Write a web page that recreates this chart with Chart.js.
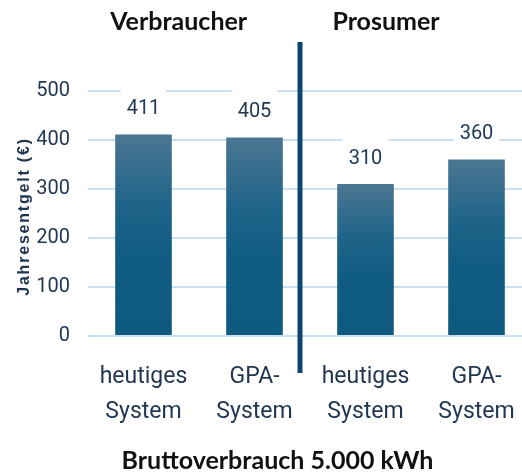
<!DOCTYPE html>
<html>
<head>
<meta charset="utf-8">
<script src="https://cdn.jsdelivr.net/npm/chart.js@4/dist/chart.umd.min.js"></script>
<style>
    html, body { margin: 0; padding: 0; background: #fff; overflow: hidden; }
    #wrap { width: 522px; height: 473px; overflow: hidden; }
</style>
</head>
<body>
<div id="wrap"><canvas id="chart" width="540" height="473"></canvas></div>
<script>
// Daten
const kategorien = [['heutiges', 'System'], ['GPA-', 'System'], ['heutiges', 'System'], ['GPA-', 'System']];
const jahresentgelt = [411, 405, 310, 360];
const gruppen = ['Verbraucher', 'Prosumer'];
const yTitel = 'Jahresentgelt (€)';
const xTitel = 'Bruttoverbrauch 5.000 kWh';

const DUNKEL = '#1f3550';
const SCHMAL = "'Liberation Sans Narrow', 'Roboto', sans-serif";
const FETT = "Lato, 'Noto Sans', sans-serif";

// Verlauf pro Balken
function balkenFarbe(ctx) {
    const chart = ctx.chart;
    if (!chart.chartArea) return '#0f5a80';
    const y = chart.scales.y;
    const oben = y.getPixelForValue(ctx.raw);
    const unten = y.getPixelForValue(0);
    const g = chart.ctx.createLinearGradient(0, oben, 0, unten);
    g.addColorStop(0, '#4b7692');
    g.addColorStop(0.35, '#1f6489');
    g.addColorStop(0.6, '#115c82');
    g.addColorStop(1, '#0e5a7f');
    return g;
}

// Beschriftungen, Trennlinie, Titel
const extras = {
    id: 'extras',
    afterDatasetsDraw(chart) {
        const ctx = chart.ctx;
        const x = chart.scales.x;
        const meta = chart.getDatasetMeta(0);

        // Wertelabels mit weissem Hintergrund
        ctx.save();
        ctx.font = '20px ' + SCHMAL;
        ctx.textAlign = 'center';
        ctx.textBaseline = 'middle';
        meta.data.forEach((bar, i) => {
            const txt = String(jahresentgelt[i]);
            const ly = bar.y - 26.5;
            const w = ctx.measureText(txt).width + 12;
            ctx.fillStyle = '#fff';
            ctx.fillRect(bar.x - w / 2, ly - 22, w, 44);
            ctx.fillStyle = DUNKEL;
            ctx.fillText(txt, bar.x, ly + 1);
        });
        ctx.restore();

        // Trennlinie zwischen den Gruppen
        const p1 = x.getPixelForValue(1);
        const p2 = x.getPixelForValue(2);
        const tx = p1 + 0.41 * (p2 - p1);
        ctx.save();
        ctx.strokeStyle = '#0a4670';
        ctx.lineWidth = 5;
        ctx.beginPath();
        ctx.moveTo(tx, 42);
        ctx.lineTo(tx, 373);
        ctx.stroke();
        ctx.restore();

        // Gruppentitel und x-Titel
        const p0 = x.getPixelForValue(0);
        const p3 = x.getPixelForValue(3);
        ctx.save();
        ctx.font = 'bold 25px ' + FETT;
        ctx.fillStyle = '#111';
        ctx.textAlign = 'center';
        ctx.textBaseline = 'alphabetic';
        ctx.fillText(gruppen[0], p0 + 0.317 * (p1 - p0), 30);
        ctx.fillText(gruppen[1], p2 + 0.185 * (p3 - p2), 30);
        ctx.fillText(xTitel, 277.5, 468.5);
        ctx.restore();

        // y-Achsentitel
        ctx.save();
        ctx.translate(25, (chart.chartArea.top + chart.chartArea.bottom) / 2 + 3);
        ctx.rotate(-Math.PI / 2);
        ctx.font = "bold 16px 'Liberation Sans', Arial, sans-serif";
        ctx.letterSpacing = '1.8px';
        ctx.fillStyle = DUNKEL;
        ctx.textAlign = 'center';
        ctx.textBaseline = 'middle';
        ctx.fillText(yTitel, 0, 0);
        ctx.restore();
    }
};

new Chart(document.getElementById('chart'), {
    type: 'bar',
    data: {
        labels: kategorien,
        datasets: [{
            data: jahresentgelt,
            backgroundColor: balkenFarbe,
            barPercentage: 0.51,
            categoryPercentage: 1
        }]
    },
    options: {
        responsive: false,
        animation: false,
        devicePixelRatio: 1,
        layout: { padding: { top: 91, right: 8, left: 0, bottom: 0 } },
        plugins: {
            legend: { display: false },
            tooltip: { enabled: false }
        },
        scales: {
            x: {
                grid: { display: false, drawTicks: false },
                border: { display: false },
                ticks: {
                    color: DUNKEL,
                    font: { family: SCHMAL, size: 23, lineHeight: 1.52 },
                    padding: 24,
                    maxRotation: 0,
                    autoSkip: false
                },
                afterFit(scale) { scale.height = 137; }
            },
            y: {
                min: 0,
                max: 500,
                grid: { color: '#cadff2', lineWidth: 2, drawTicks: false },
                border: { display: false },
                ticks: {
                    stepSize: 100,
                    color: DUNKEL,
                    font: { family: SCHMAL, size: 20 },
                    padding: 18
                },
                afterFit(scale) { scale.width = 88; }
            }
        }
    },
    plugins: [extras]
});
</script>
</body>
</html>
